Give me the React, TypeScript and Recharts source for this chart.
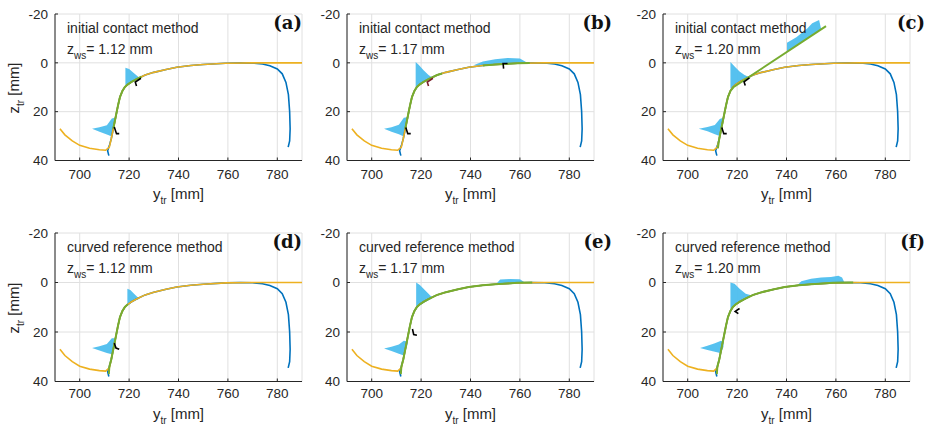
import React from 'react';
import { ComposedChart, Line, Area, XAxis, YAxis, CartesianGrid } from 'recharts';

// axes
const Y_TICKS = [700, 720, 740, 760, 780];
const Z_TICKS = [-20, 0, 20, 40];

// rail profile (yellow), y_tr / z_tr in mm
const railY = [692, 694, 697, 700, 704, 708, 710.5, 712, 712.8, 713.6, 714.5, 715.5, 716.3, 717.3, 718.3, 719.5, 721, 723, 726.5, 730, 735, 739.3, 745, 750, 759, 770, 790];
const railZ = [27, 29.5, 32, 33.8, 35, 35.6, 35.8, 34.5, 31, 27, 22.5, 17.5, 14, 11.5, 9.9, 8.8, 7.8, 6.7, 5, 3.9, 2.7, 1.8, 1.1, 0.7, 0.15, 0, 0];

// wheel profile (blue)
const wheelY = [711.8, 711.3, 712, 712.8, 713.6, 714.5, 715.5, 716.3, 717.3, 718.3, 719.5, 721, 723, 726.5, 730, 735, 739.3, 745, 750, 759, 765, 770, 774, 777, 780, 782, 783.5, 784.5, 785, 785.2, 785, 784.4];
const wheelZ = [38, 36, 34, 31, 27, 22.5, 17.5, 14, 11.5, 9.9, 8.8, 7.8, 6.7, 5, 3.9, 2.7, 1.8, 1.1, 0.7, 0.15, 0, 0.1, 0.5, 1.2, 2.5, 4.5, 8, 13, 20, 27, 32, 34.5];

// contact zones (green), [y, z]
const greenA = [[713.6, 27], [714.5, 22.5], [715.5, 17.5], [716.3, 14], [717.3, 11.5], [718.3, 9.9], [719.5, 8.8], [721, 7.8], [723, 6.7], [725, 5.6]];
const greenB1 = [[713.6, 27], [714.5, 22.5], [715.5, 17.5], [716.3, 14], [717.3, 11.5], [718.3, 9.9], [719.5, 8.8], [721, 7.8], [723, 6.7], [726.5, 5], [728.5, 4.4]];
const greenB2 = [[745, 1.1], [750, 0.7], [759, 0.15], [764, 0.05]];
const greenC = [[712.2, 35], [712.8, 31], [713.6, 27], [714.5, 22.5], [715.5, 17.5], [716.3, 14], [717.3, 11.5], [718.5, 10], [756, -15]];
const greenD = [[711.8, 37], [712, 34], [712.8, 31], [713.6, 27], [714.5, 22.5], [715.5, 17.5], [716.3, 14], [717.3, 11.5], [718.3, 9.9], [719.5, 8.8]];
const greenE = [[711.8, 37], [712, 34], [712.8, 31], [713.6, 27], [714.5, 22.5], [715.5, 17.5], [716.3, 14], [717.3, 11.5], [718.3, 9.9], [719.5, 8.8], [721, 7.8], [723, 6.7], [726.5, 5], [730, 3.9], [735, 2.7], [739.3, 1.8], [745, 1.1], [750, 0.7], [759, 0.15], [765, 0]];
const greenF = [[711.8, 37], [712, 34], [712.8, 31], [713.6, 27], [714.5, 22.5], [715.5, 17.5], [716.3, 14], [717.3, 11.5], [718.3, 9.9], [719.5, 8.8], [721, 7.8], [723, 6.7], [726.5, 5], [730, 3.9], [735, 2.7], [739.3, 1.8], [745, 1.1], [750, 0.7], [759, 0.15], [767, 0]];

// pressure patches (light blue), [y, zTop, zBottom]
const patchA1 = [[705, 27, 27], [708, 26.4, 28.2], [711, 25.6, 29.4], [713, 22.8, 30.2], [714.3, 22.5, 23.5]];
const patchA2 = [[718.5, 2, 9.4], [720, 2.5, 8.5], [722, 4.3, 7.2], [724.4, 6.3, 6.4]];
const patchB1 = [[705, 27, 27], [708, 26.4, 28.2], [711, 25.4, 29.3], [713, 22.5, 30.2], [714.3, 22.3, 23.5]];
const patchB2 = [[717.8, -0.3, 10], [719, 0.8, 9.2], [721, 3, 8], [723, 5, 7], [724.5, 6, 6.3]];
const patchB3 = [[741.5, 0.9, 1.0], [745, -0.5, 1], [750, -1.5, 0.7], [755, -2, 0.5], [760, -1.8, 0.2], [763, 0, 0.1]];
const patchC1 = [[704.5, 27, 27], [708, 26.3, 28], [711, 25.5, 29.3], [713, 23, 30], [714.3, 22.5, 23.5]];
const patchC2 = [[717.3, -0.3, 10.5], [719, 1.5, 9.5], [721, 3.5, 8], [723, 5, 7], [725.3, 6, 6.3]];
const patchC3 = [[740.2, -8.2, -4.4], [744, -10.5, -7], [748.4, -14.1, -9.9], [750.4, -16.2, -11.3], [753.2, -17.5, -13.1], [754, -14, -13.6]];
const patchD1 = [[705, 26.5, 26.5], [708, 25.8, 27.5], [711, 24.8, 28.5], [713, 22.5, 29], [714.2, 22.5, 24]];
const patchD2 = [[719.3, 2.5, 9.5], [720.5, 3, 8.5], [722, 4.5, 7.4], [724, 6.5, 6.7]];
const patchE1 = [[705, 26.7, 26.7], [708, 26, 27.7], [711, 25, 28.8], [713, 23.5, 29.5], [714.5, 23.8, 25]];
const patchE2 = [[718, 0, 10.5], [719.5, 1, 9.3], [721.5, 3, 8], [724.4, 6, 6.5]];
const patchE3 = [[750.5, 0.5, 0.6], [752, -1.2, 0.5], [756, -1.4, 0.35], [760, -1.3, 0.2], [762, 0, 0.1]];
const patchF1 = [[705, 26.5, 26.5], [708, 25.6, 27.3], [711, 24.5, 28], [713.5, 23.5, 28.6], [714.5, 24, 26]];
const patchF2 = [[717.3, 0, 10.7], [719, 0.5, 9.5], [721, 2.5, 8], [723.5, 4.5, 6.8], [726, 5.3, 5.5]];
const patchF3 = [[744.5, 1, 1.1], [746, -0.5, 1], [750, -1.5, 0.7], [754, -2, 0.5], [758, -2.2, 0.3], [761, -2.7, 0.2], [762.5, -2, 0.1], [763.5, 0.1, 0.1]];

// contact point markers (black), [y, z]
const markA1 = [[714, 26.3], [714.9, 29], [716, 29]];
const markA2 = [[724.8, 6.3], [722.5, 7.9], [723, 9.5]];
const markB1 = [[713.8, 26.5], [714.6, 29], [715.8, 29]];
const markB2 = [[724.8, 6.3], [722.5, 7.9], [723, 9.5]];
const markB3 = [[753.4, 2.4], [753.2, 0.3], [755, 0.3]];
const markC1 = [[713.8, 26.5], [714.6, 29], [715.8, 29]];
const markC2 = [[725, 6.2], [722.8, 7.8], [723.3, 9.3]];
const markD1 = [[714, 24.5], [714.7, 26.5], [716, 27]];
const markE1 = [[716.5, 18.8], [717, 21], [718.3, 21.3]];
const markF1 = [[721, 10.5], [719.2, 11.7], [720.5, 12.6]];

const toPts = (ys: number[], zs: number[]) => ys.map((y, i) => ({ y, z: zs[i] }));
const pairs = (a: number[][]) => a.map(([y, z]) => ({ y, z }));
const ranges = (a: number[][]) => a.map(([y, t, b]) => ({ y, r: [t, b] }));

const rail = toPts(railY, railZ);
const wheel = toPts(wheelY, wheelZ);

const PW = 247;
const ML = 45, MR = 10, MT = 12, MB = 26;
const COLS = [55, 347, 663];
const ROWS = [{ top: 14, h: 146.5 }, { top: 232.5, h: 148.5 }];
const LABEL_RIGHT = [302, 612, 925];
const INK = '#262626';
const FONT = '"Liberation Sans", Arial, Helvetica, sans-serif';

interface PanelDef {
  tag: string;
  method: string;
  zws: string;
  green: number[][][];
  patches: number[][][];
  marks: { pts: number[][]; color: string }[];
}

const PANELS: PanelDef[] = [
  { tag: '(a)', method: 'initial contact method', zws: '1.12', green: [greenA], patches: [patchA1, patchA2], marks: [{ pts: markA1, color: '#000' }, { pts: markA2, color: '#000' }] },
  { tag: '(b)', method: 'initial contact method', zws: '1.17', green: [greenB1, greenB2], patches: [patchB1, patchB2, patchB3], marks: [{ pts: markB1, color: '#000' }, { pts: markB2, color: '#7a1f2a' }, { pts: markB3, color: '#000' }] },
  { tag: '(c)', method: 'initial contact method', zws: '1.20', green: [greenC], patches: [patchC1, patchC2, patchC3], marks: [{ pts: markC1, color: '#000' }, { pts: markC2, color: '#000' }] },
  { tag: '(d)', method: 'curved reference method', zws: '1.12', green: [greenD], patches: [patchD1, patchD2], marks: [{ pts: markD1, color: '#000' }] },
  { tag: '(e)', method: 'curved reference method', zws: '1.17', green: [greenE], patches: [patchE1, patchE2, patchE3], marks: [{ pts: markE1, color: '#000' }] },
  { tag: '(f)', method: 'curved reference method', zws: '1.20', green: [greenF], patches: [patchF1, patchF2, patchF3], marks: [{ pts: markF1, color: '#000' }] },
];

function Panel({ def, col, row }: { def: PanelDef; col: number; row: number }) {
  const left = COLS[col];
  const { top, h } = ROWS[row];
  const tick = { fontSize: 13.5, fill: INK, fontFamily: FONT };
  return (
    <>
      <div style={{ position: 'absolute', left: left - ML, top: top - MT }}>
        <ComposedChart width={PW + ML + MR} height={h + MT + MB} margin={{ top: MT, right: MR, left: 0, bottom: 0 }}>
          <CartesianGrid stroke="#e0e0e0" strokeWidth={1} />
          <XAxis type="number" dataKey="y" domain={[690, 790]} ticks={Y_TICKS} interval={0} allowDataOverflow height={MB}
            stroke={INK} tick={tick} tickSize={-3} tickMargin={row === 0 ? 12 : 10} />
          <YAxis type="number" dataKey="z" domain={[-20, 40]} ticks={Z_TICKS} interval={0} reversed allowDataOverflow width={ML}
            stroke={INK} tick={tick} tickSize={-3} tickMargin={10} />
          <Line data={wheel} dataKey="z" stroke="#0072BD" strokeWidth={1.6} dot={false} activeDot={false} isAnimationActive={false} />
          <Line data={rail} dataKey="z" stroke="#EDB120" strokeWidth={1.6} dot={false} activeDot={false} isAnimationActive={false} />
          {def.green.map((g, i) => (
            <Line key={'g' + i} data={pairs(g)} dataKey="z" stroke="#77AC30" strokeWidth={2} dot={false} activeDot={false} isAnimationActive={false} />
          ))}
          {def.patches.map((p, i) => (
            <Area key={'p' + i} data={ranges(p)} dataKey="r" type="linear" fill="#4DBEEE" fillOpacity={0.95} stroke="none" dot={false} activeDot={false} isAnimationActive={false} />
          ))}
          {def.marks.map((m, i) => (
            <Line key={'m' + i} data={pairs(m.pts)} dataKey="z" stroke={m.color} strokeWidth={1.6} dot={false} activeDot={false} isAnimationActive={false} />
          ))}
        </ComposedChart>
      </div>
      <div style={{ position: 'absolute', left: left + 12, top: top + 6, fontFamily: FONT, fontSize: 14, color: INK, whiteSpace: 'nowrap', lineHeight: '16px' }}>
        {def.method}
      </div>
      <div style={{ position: 'absolute', left: left + 12, top: top + 27, fontFamily: FONT, fontSize: 14, color: INK, whiteSpace: 'nowrap', lineHeight: '16px' }}>
        z<span style={{ fontSize: 10, position: 'relative', top: 5 }}>ws</span>= {def.zws} mm
      </div>
      <div style={{ position: 'absolute', right: 930 - LABEL_RIGHT[col], top: top - 1, fontFamily: '"DejaVu Serif", serif', fontWeight: 'bold', fontSize: 18, color: '#111', lineHeight: '20px' }}>
        {def.tag}
      </div>
      <div style={{ position: 'absolute', left: left, width: PW, top: top + h + 25, textAlign: 'center', fontFamily: FONT, fontSize: 15, color: INK, lineHeight: '16px' }}>
        y<span style={{ fontSize: 10, position: 'relative', top: 5 }}>tr</span> [mm]
      </div>
      {col === 0 && (
        <div style={{ position: 'absolute', left: 15 - 40, top: top + h / 2 - 8, width: 80, textAlign: 'center', transform: 'rotate(-90deg)', fontFamily: FONT, fontSize: 15, color: INK, lineHeight: '16px' }}>
          z<span style={{ fontSize: 10, position: 'relative', top: 5 }}>tr</span> [mm]
        </div>
      )}
    </>
  );
}

export default function App() {
  return (
    <div style={{ position: 'absolute', left: 0, top: 0, width: 930, height: 429, background: '#fff', overflow: 'hidden' }}>
      {PANELS.map((def, i) => (
        <Panel key={def.tag} def={def} col={i % 3} row={Math.floor(i / 3)} />
      ))}
    </div>
  );
}
